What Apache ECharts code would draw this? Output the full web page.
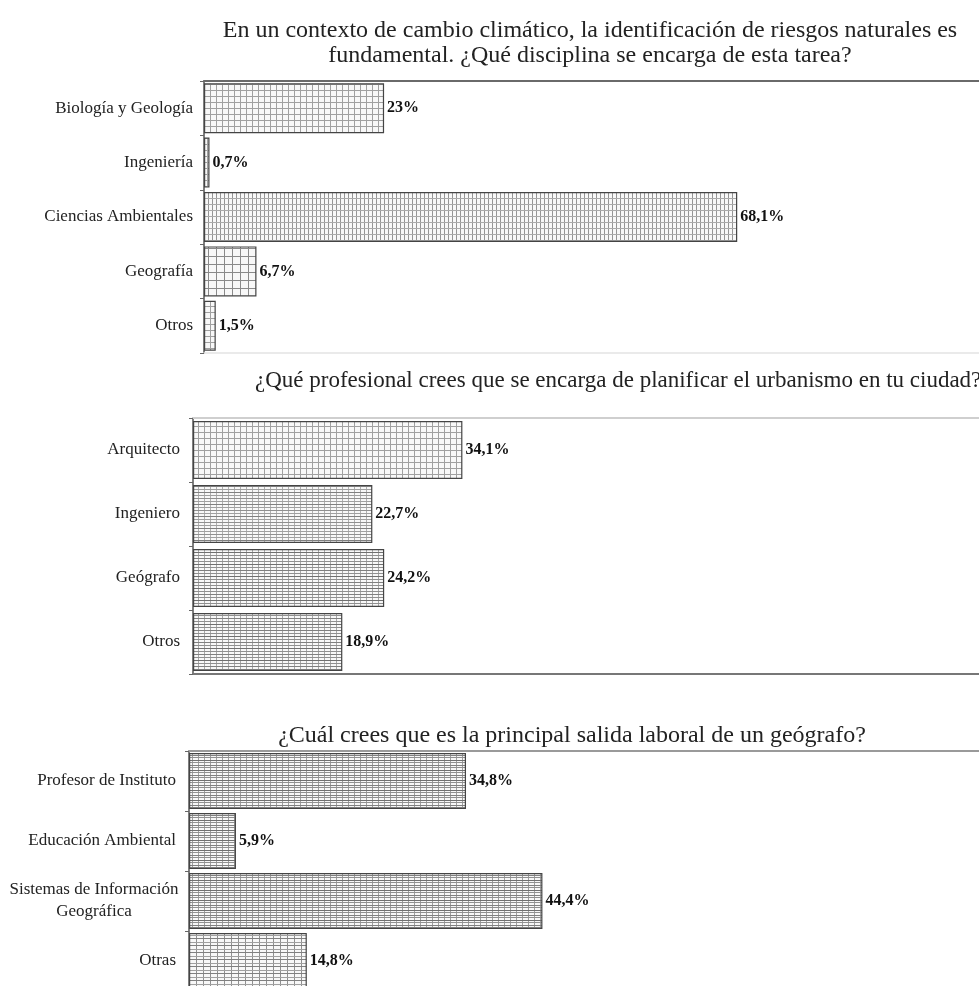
<!DOCTYPE html>
<html>
<head>
<meta charset="utf-8">
<script src="https://cdn.jsdelivr.net/npm/echarts@6/dist/echarts.min.js"></script>
<style>
html,body{margin:0;padding:0;background:#fff;}
#main{width:979px;height:986px;}
</style>
</head>
<body>
<div id="main"></div>
<script>
// ---- Data ----
const title1Lines = ['En un contexto de cambio climático, la identificación de riesgos naturales es', 'fundamental. ¿Qué disciplina se encarga de esta tarea?'];
const q1Categories = ['Biología y Geología', 'Ingeniería', 'Ciencias Ambientales', 'Geografía', 'Otros'];
const q1Values = [23, 0.7, 68.1, 6.7, 1.5];

const title2 = '¿Qué profesional crees que se encarga de planificar el urbanismo en tu ciudad?';
const q2Categories = ['Arquitecto', 'Ingeniero', 'Geógrafo', 'Otros'];
const q2Values = [34.1, 22.7, 24.2, 18.9];

const title3 = '¿Cuál crees que es la principal salida laboral de un geógrafo?';
const q3Categories = ['Profesor de Instituto', 'Educación Ambiental', 'Sistemas de Información\nGeográfica', 'Otras'];
const q3Values = [34.8, 5.9, 44.4, 14.8];

// ---- Patterns ----
function makePattern(w, h, vLines, hLines) {
  const c = document.createElement('canvas');
  c.width = w; c.height = h;
  const g = c.getContext('2d');
  g.fillStyle = '#f8f8f8';
  g.fillRect(0, 0, w, h);
  vLines.forEach(function (l) { g.fillStyle = l[1]; g.fillRect(l[0], 0, 1, h); });
  hLines.forEach(function (l) { g.fillStyle = l[1]; g.fillRect(0, l[0], w, 1); });
  return { image: c, repeat: 'repeat' };
}
const patGridFine = makePattern(6, 6, [[0, '#a0a0a0']], [[0, '#a0a0a0']]);
const patGridNarrow = makePattern(4, 6, [[0, '#959595']], [[0, '#aaaaaa']]);
const patGridTiny = makePattern(3, 6, [[0, '#a0a0a0']], [[0, '#a0a0a0']]);
const patGridCoarse = makePattern(8, 8, [[0, '#8a8a8a']], [[0, '#8a8a8a']]);
const patHoriz2 = makePattern(6, 12, [[0, '#b0b0b0']], [[0, '#808080'], [3, '#a0a0a0'], [6, '#909090'], [9, '#a0a0a0']]);
const patHoriz2b = makePattern(6, 12, [[0, '#a8a8a8']], [[0, '#707070'], [3, '#909090'], [6, '#808080'], [9, '#909090']]);
const patHoriz3 = makePattern(6, 10, [[0, '#a0a0a0']], [[0, '#707070'], [2, '#909090'], [5, '#808080'], [7, '#909090']]);
const patGrid3 = makePattern(7, 7, [[0, '#909090']], [[0, '#808080'], [4, '#a0a0a0']]);

const q1Patterns = [patGridFine, patGridTiny, patGridNarrow, patGridCoarse, patGridFine];
const q2Patterns = [patGridFine, patHoriz2, patHoriz2b, patHoriz2b];
const q3Patterns = [patHoriz3, patHoriz3, patHoriz3, patGrid3];

const serif = '"Liberation Serif", "DejaVu Serif", serif';

function fmt(v) { return String(v).replace('.', ',') + '%'; }

function mkData(vals, pats) {
  return vals.map(function (v, i) { return { value: v, itemStyle: { color: pats[i] } }; });
}

function yAxisCfg(gi, cats, margin) {
  return {
    type: 'category', gridIndex: gi, data: cats, inverse: true,
    axisLine: { show: true, lineStyle: { color: '#555', width: 1.5 } },
    axisTick: { show: true, length: 4, lineStyle: { color: '#666' } },
    axisLabel: {
      color: '#222', fontFamily: serif, fontSize: 17, margin: margin,
      formatter: function (v) {
        if (v.indexOf('\n') >= 0) {
          return v.split('\n').map(function (s) { return '{c|' + s + '}'; }).join('\n');
        }
        return v;
      },
      rich: { c: { width: 164, align: 'center', fontFamily: serif, fontSize: 17, color: '#222', lineHeight: 22 } }
    }
  };
}

function xAxisCfg(gi, pos, color, width) {
  return {
    type: 'value', gridIndex: gi, min: 0, max: 100, position: pos,
    axisLine: { show: width > 0, onZero: false, lineStyle: { color: color, width: width } },
    axisTick: { show: false }, axisLabel: { show: false }, splitLine: { show: false }
  };
}

function barSeries(xi, yi, vals, pats, bw) {
  return {
    type: 'bar', xAxisIndex: xi, yAxisIndex: yi, barWidth: bw,
    data: mkData(vals, pats),
    itemStyle: { borderColor: '#444', borderWidth: 1.2 },
    label: {
      show: true, position: 'right', distance: 3,
      fontFamily: serif, fontWeight: 'bold', fontSize: 16, color: '#111',
      formatter: function (p) { return fmt(p.value); }
    },
    animation: false
  };
}

const chart = echarts.init(document.getElementById('main'), null, { renderer: 'canvas' });

chart.setOption({
  backgroundColor: '#fff',
  animation: false,
  graphic: [
    { type: 'text', x: 590, y: 31, style: { text: title1Lines[0], fontFamily: serif, fontSize: 24, fill: '#222', textAlign: 'center', textVerticalAlign: 'middle' } },
    { type: 'text', x: 590, y: 56, style: { text: title1Lines[1], fontFamily: serif, fontSize: 24, fill: '#222', textAlign: 'center', textVerticalAlign: 'middle' } },
    { type: 'text', x: 255, y: 381, style: { text: title2, fontFamily: serif, fontSize: 23, fill: '#222', textAlign: 'left', textVerticalAlign: 'middle' } },
    { type: 'text', x: 572, y: 736, style: { text: title3, fontFamily: serif, fontSize: 24, fill: '#222', textAlign: 'center', textVerticalAlign: 'middle' } }
  ],
  grid: [
    { left: 204, top: 81, width: 783, height: 272, outerBoundsMode: 'none' },
    { left: 193, top: 418, width: 790, height: 256, outerBoundsMode: 'none' },
    { left: 189, top: 751, width: 796, height: 240, outerBoundsMode: 'none' }
  ],
  xAxis: [
    xAxisCfg(0, 'top', '#6a6a6a', 2),
    xAxisCfg(0, 'bottom', '#e4e4e4', 1.5),
    xAxisCfg(1, 'top', '#cfcfcf', 2),
    xAxisCfg(1, 'bottom', '#777', 2),
    xAxisCfg(2, 'top', '#9a9a9a', 2)
  ],
  yAxis: [
    yAxisCfg(0, q1Categories, 11),
    yAxisCfg(1, q2Categories, 13),
    yAxisCfg(2, q3Categories, 13)
  ],
  series: [
    barSeries(0, 0, q1Values, q1Patterns, 50),
    barSeries(2, 1, q2Values, q2Patterns, 58),
    barSeries(4, 2, q3Values, q3Patterns, 56)
  ]
});
</script>
</body>
</html>
